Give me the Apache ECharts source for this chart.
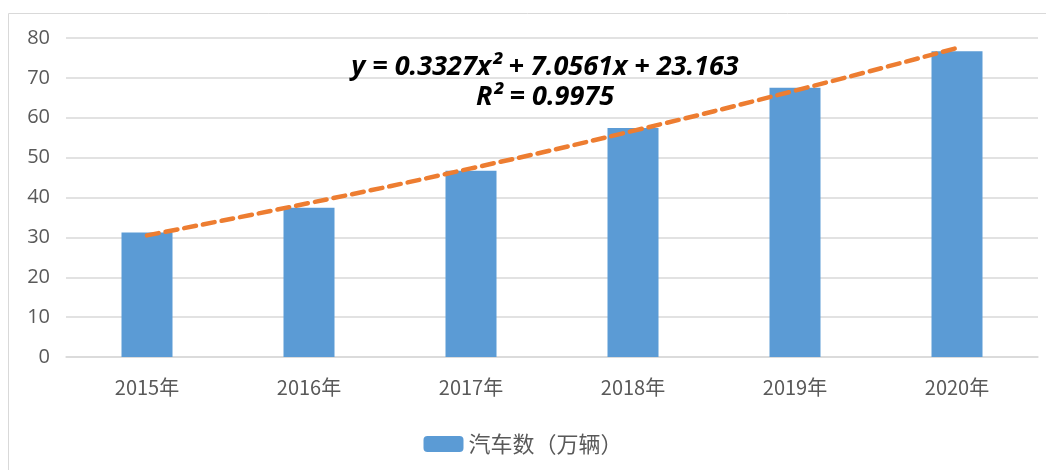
<!DOCTYPE html>
<html>
<head>
<meta charset="utf-8">
<script src="https://cdn.jsdelivr.net/npm/echarts@6/dist/echarts.min.js"></script>
<style>
  html, body { margin: 0; padding: 0; background: #fff; }
  #chart { width: 1046px; height: 470px; }
</style>
</head>
<body>
<div id="chart"></div>
<script>
var years = ["2015年", "2016年", "2017年", "2018年", "2019年", "2020年"];
var cars = [31.2, 37.4, 46.7, 57.4, 67.5, 76.7];
// trendline points
var trend = [30.5, 38.6, 47.3, 56.7, 66.8, 77.5];
var eqText = ["y = 0.3327x² + 7.0561x + 23.163", "R² = 0.9975"];

var chart = echarts.init(document.getElementById('chart'));

var eqFont = 'italic bold 27px "Open Sans", "Noto Sans", sans-serif';

var option = {
    animation: false,
    graphic: [
        {
            type: 'rect',
            shape: { x: 8.5, y: 13.5, width: 1100, height: 500 },
            style: { fill: 'none', stroke: '#d9d9d9', lineWidth: 1 },
            silent: true
        },
        {
            type: 'text',
            x: 545, y: 67,
            style: {
                text: eqText[0],
                textAlign: 'center',
                textVerticalAlign: 'middle',
                font: eqFont,
                fill: '#000'
            },
            z: 10
        },
        {
            type: 'text',
            x: 545, y: 97,
            style: {
                text: eqText[1],
                textAlign: 'center',
                textVerticalAlign: 'middle',
                font: eqFont,
                fill: '#000'
            },
            z: 10
        }
    ],
    grid: {
        left: 66,
        right: 8,
        top: 38,
        bottom: 113
    },
    legend: {
        data: [{ name: '汽车数（万辆）' }],
        bottom: 10,
        left: 'center',
        itemWidth: 40,
        itemHeight: 16,
        itemGap: 14,
        textStyle: {
            fontSize: 22,
            color: '#595959',
            fontFamily: '"Noto Sans CJK SC", sans-serif'
        }
    },
    xAxis: {
        type: 'category',
        data: years,
        axisLine: { lineStyle: { color: '#d9d9d9', width: 1.5 } },
        axisTick: { show: false },
        axisLabel: {
            fontSize: 20,
            color: '#595959',
            margin: 20,
            fontFamily: '"Noto Sans CJK SC", sans-serif'
        }
    },
    yAxis: {
        type: 'value',
        min: 0,
        max: 80,
        interval: 10,
        axisLine: { show: false },
        axisTick: { show: false },
        splitLine: { lineStyle: { color: '#d9d9d9', width: 1.5 } },
        axisLabel: {
            fontSize: 20,
            color: '#595959',
            margin: 16,
            fontFamily: '"Open Sans", "Noto Sans", sans-serif'
        }
    },
    series: [
        {
            name: '汽车数（万辆）',
            type: 'bar',
            data: cars,
            barWidth: 51,
            itemStyle: { color: '#5b9bd5' }
        },
        {
            name: 'trend',
            type: 'line',
            data: trend,
            smooth: true,
            symbol: 'none',
            lineStyle: {
                color: '#ed7d31',
                width: 4.5,
                type: [12, 7],
                cap: 'round'
            },
            z: 5
        }
    ]
};

chart.setOption(option);
</script>
</body>
</html>
